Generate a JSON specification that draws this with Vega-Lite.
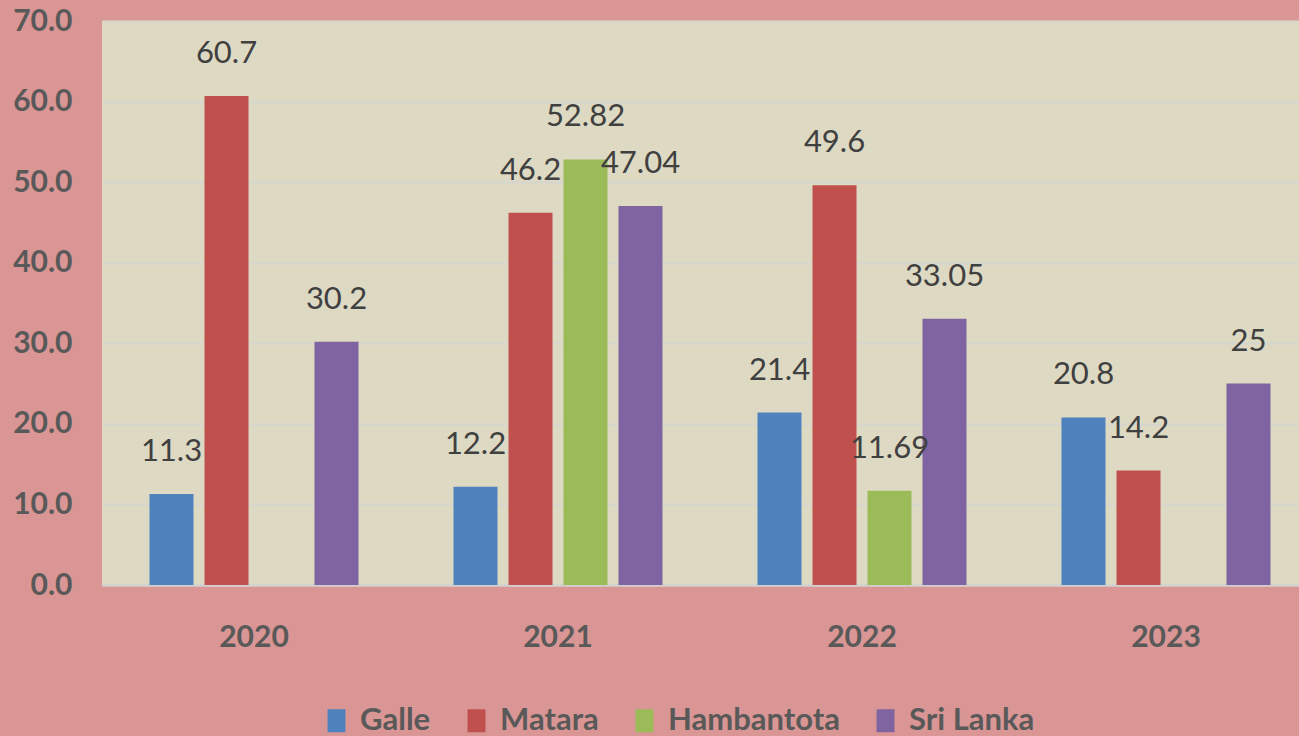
{
  "$schema": "https://vega.github.io/schema/vega-lite/v6.json",
  "autosize": {"type": "none"},
  "width": 1216,
  "height": 564,
  "padding": {"left": 102, "top": 21, "right": 0, "bottom": 151},
  "background": "#DA9694",
  "config": {
    "view": {"fill": "#DDD9C3", "stroke": null},
    "font": "Lato"
  },
  "data": {
    "values": [
      {"year": "2020", "region": "Galle", "value": 11.3},
      {"year": "2020", "region": "Matara", "value": 60.7},
      {"year": "2020", "region": "Sri Lanka", "value": 30.2},
      {"year": "2021", "region": "Galle", "value": 12.2},
      {"year": "2021", "region": "Matara", "value": 46.2},
      {"year": "2021", "region": "Hambantota", "value": 52.82},
      {"year": "2021", "region": "Sri Lanka", "value": 47.04},
      {"year": "2022", "region": "Galle", "value": 21.4},
      {"year": "2022", "region": "Matara", "value": 49.6},
      {"year": "2022", "region": "Hambantota", "value": 11.69},
      {"year": "2022", "region": "Sri Lanka", "value": 33.05},
      {"year": "2023", "region": "Galle", "value": 20.8},
      {"year": "2023", "region": "Matara", "value": 14.2},
      {"year": "2023", "region": "Sri Lanka", "value": 25}
    ]
  },
  "encoding": {
    "x": {
      "field": "year", "type": "nominal",
      "scale": {"paddingInner": 0.3125, "paddingOuter": 0.15625},
      "axis": {
        "title": null, "labelAngle": 0, "domain": true, "domainColor": "#D0D0D0", "domainWidth": 2,
        "ticks": false, "labelPadding": 37, "labelFontSize": 30, "labelFontWeight": "bold",
        "labelColor": "#595959"
      }
    },
    "xOffset": {
      "field": "region", "type": "nominal",
      "sort": ["Galle", "Matara", "Hambantota", "Sri Lanka"],
      "scale": {"domain": ["Galle", "Matara", "Hambantota", "Sri Lanka"], "paddingInner": 0.2, "paddingOuter": 0}
    },
    "y": {
      "field": "value", "type": "quantitative",
      "scale": {"domain": [0, 70], "nice": false},
      "axis": {
        "title": null, "values": [0, 10, 20, 30, 40, 50, 60, 70], "format": ".1f", "labelOverlap": false,
        "domain": false, "ticks": false, "labelPadding": 30, "labelFontSize": 30, "labelFontWeight": "bold",
        "labelColor": "#595959", "gridColor": "#D6D6CF", "gridWidth": 2
      }
    }
  },
  "layer": [
    {
      "mark": {"type": "bar"},
      "encoding": {
        "color": {
          "field": "region", "type": "nominal",
          "scale": {"domain": ["Galle", "Matara", "Hambantota", "Sri Lanka"], "range": ["#4F81BD", "#C0504D", "#9BBB59", "#8064A2"]},
          "legend": {
            "title": null, "orient": "none", "direction": "horizontal", "legendX": 219, "legendY": 684,
            "symbolType": "M-0.78,-1L0.78,-1L0.78,1L-0.78,1Z", "symbolSize": 529, "symbolStrokeWidth": 0,
            "labelFontSize": 31, "labelFontWeight": "bold", "labelLimit": 400,
            "labelColor": "#595959", "labelOffset": 8, "columnPadding": 30
          }
        }
      }
    },
    {
      "mark": {"type": "text", "baseline": "middle", "dy": -42, "fontSize": 31, "color": "#404040"},
      "encoding": {"text": {"field": "value", "type": "quantitative"}}
    }
  ]
}
